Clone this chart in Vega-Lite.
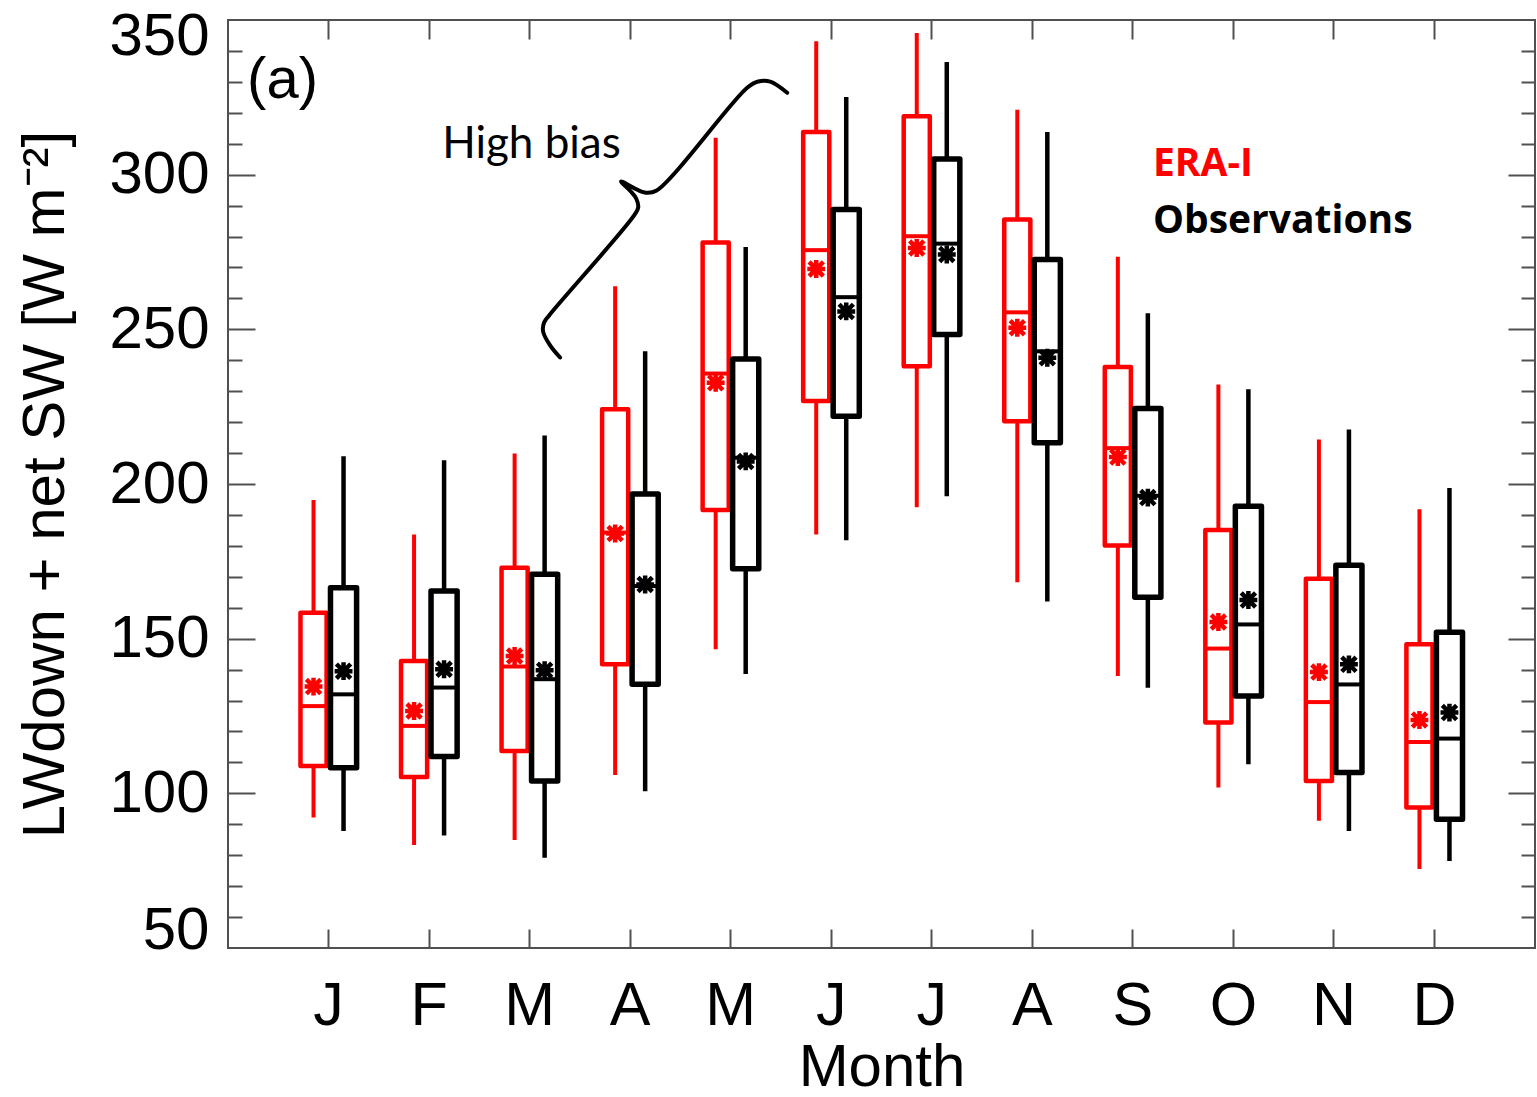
{
  "$schema": "https://vega.github.io/schema/vega-lite/v6.json",
  "width": 1307,
  "height": 928,
  "autosize": {"type": "none"},
  "padding": {"left": 228, "top": 20, "right": 2, "bottom": 149},
  "background": "white",
  "config": {
    "view": {"stroke": "#505050", "strokeWidth": 2},
    "axis": {"grid": false, "domain": false, "tickColor": "#505050", "tickWidth": 2, "labelColor": "black", "titleColor": "black", "labelFont": "Liberation Sans", "titleFont": "Liberation Sans", "titleFontWeight": "normal"}
  },
  "datasets": {
    "boxes": [
      {"mon": "Jan", "src": "ERA-I", "lo": 92.2, "q1": 108.8, "med": 128.2, "q3": 158.4, "hi": 194.8, "mean": 134.5},
      {"mon": "Jan", "src": "Observations", "lo": 87.8, "q1": 108.3, "med": 132.0, "q3": 166.5, "hi": 209.0, "mean": 139.5},
      {"mon": "Feb", "src": "ERA-I", "lo": 83.3, "q1": 105.3, "med": 121.8, "q3": 142.8, "hi": 183.7, "mean": 126.6},
      {"mon": "Feb", "src": "Observations", "lo": 86.4, "q1": 111.9, "med": 134.2, "q3": 165.4, "hi": 207.7, "mean": 140.1},
      {"mon": "Mar", "src": "ERA-I", "lo": 84.9, "q1": 113.7, "med": 141.0, "q3": 172.9, "hi": 209.9, "mean": 144.4},
      {"mon": "Mar", "src": "Observations", "lo": 79.2, "q1": 104.0, "med": 136.9, "q3": 170.8, "hi": 215.7, "mean": 139.8},
      {"mon": "Apr", "src": "ERA-I", "lo": 105.9, "q1": 141.7, "med": 184.3, "q3": 224.2, "hi": 263.9, "mean": 184.0},
      {"mon": "Apr", "src": "Observations", "lo": 100.7, "q1": 135.3, "med": 167.0, "q3": 196.8, "hi": 242.9, "mean": 167.5},
      {"mon": "May", "src": "ERA-I", "lo": 146.6, "q1": 191.6, "med": 235.7, "q3": 278.1, "hi": 311.9, "mean": 232.7},
      {"mon": "May", "src": "Observations", "lo": 138.6, "q1": 172.6, "med": 208.5, "q3": 240.4, "hi": 276.6, "mean": 207.3},
      {"mon": "Jun", "src": "ERA-I", "lo": 183.7, "q1": 226.8, "med": 275.6, "q3": 313.8, "hi": 343.1, "mean": 269.5},
      {"mon": "Jun", "src": "Observations", "lo": 181.8, "q1": 221.9, "med": 260.4, "q3": 288.7, "hi": 325.1, "mean": 255.8},
      {"mon": "Jul", "src": "ERA-I", "lo": 192.5, "q1": 238.1, "med": 280.1, "q3": 318.9, "hi": 345.8, "mean": 276.3},
      {"mon": "Jul", "src": "Observations", "lo": 196.0, "q1": 248.3, "med": 277.7, "q3": 305.1, "hi": 336.4, "mean": 274.2},
      {"mon": "Aug", "src": "ERA-I", "lo": 168.2, "q1": 220.3, "med": 255.5, "q3": 285.5, "hi": 321.0, "mean": 250.5},
      {"mon": "Aug", "src": "Observations", "lo": 162.0, "q1": 213.3, "med": 242.9, "q3": 272.6, "hi": 313.8, "mean": 240.8},
      {"mon": "Sep", "src": "ERA-I", "lo": 137.9, "q1": 180.1, "med": 211.6, "q3": 237.8, "hi": 273.5, "mean": 208.7},
      {"mon": "Sep", "src": "Observations", "lo": 134.1, "q1": 163.4, "med": 196.2, "q3": 224.4, "hi": 255.2, "mean": 195.6},
      {"mon": "Oct", "src": "ERA-I", "lo": 101.9, "q1": 122.9, "med": 146.8, "q3": 185.1, "hi": 232.2, "mean": 155.4},
      {"mon": "Oct", "src": "Observations", "lo": 109.4, "q1": 131.5, "med": 154.6, "q3": 192.8, "hi": 230.6, "mean": 162.5},
      {"mon": "Nov", "src": "ERA-I", "lo": 91.1, "q1": 104.0, "med": 129.5, "q3": 169.4, "hi": 214.4, "mean": 139.2},
      {"mon": "Nov", "src": "Observations", "lo": 87.8, "q1": 106.7, "med": 135.2, "q3": 173.7, "hi": 217.6, "mean": 141.7},
      {"mon": "Dec", "src": "ERA-I", "lo": 75.5, "q1": 95.4, "med": 116.6, "q3": 148.2, "hi": 191.8, "mean": 123.7},
      {"mon": "Dec", "src": "Observations", "lo": 78.1, "q1": 91.6, "med": 117.7, "q3": 152.1, "hi": 198.7, "mean": 126.1}
    ],
    "brace": [
      {"i": 1, "x": 3.303, "y": 240.9},
      {"i": 2, "x": 3.204, "y": 244.8},
      {"i": 3, "x": 3.134, "y": 249.3},
      {"i": 4, "x": 3.144, "y": 252.2},
      {"i": 5, "x": 3.194, "y": 254.5},
      {"i": 6, "x": 4.030, "y": 286.4},
      {"i": 7, "x": 4.080, "y": 289.4},
      {"i": 8, "x": 4.060, "y": 292.3},
      {"i": 9, "x": 4.000, "y": 294.8},
      {"i": 10, "x": 3.910, "y": 297.8},
      {"i": 11, "x": 4.030, "y": 295.8},
      {"i": 12, "x": 4.149, "y": 294.2},
      {"i": 13, "x": 4.259, "y": 294.8},
      {"i": 14, "x": 5.164, "y": 328.1},
      {"i": 15, "x": 5.274, "y": 330.1},
      {"i": 16, "x": 5.393, "y": 330.1},
      {"i": 17, "x": 5.562, "y": 326.5}
    ]
  },
  "layer": [
    {
      "data": {"name": "boxes"},
      "layer": [
        {
          "mark": {"type": "rule"},
          "encoding": {
            "x": {"field": "mon", "type": "nominal", "scale": {"type": "band", "domain": ["Jan","Feb","Mar","Apr","May","Jun","Jul","Aug","Sep","Oct","Nov","Dec"], "paddingInner": 0, "paddingOuter": 0.5},
              "axis": {"orient": "bottom", "ticks": false, "labels": true, "labelFontSize": 61, "labelPadding": 28, "labelAngle": 0, "labelExpr": "substring(datum.value, 0, 1)", "title": "Month", "titleFontSize": 60, "titleBaseline": "alphabetic", "titleY": 137}},
            "xOffset": {"field": "src", "type": "nominal", "scale": {"type": "band", "domain": ["ERA-I", "Observations"], "paddingInner": 0.13, "paddingOuter": 0.74}},
            "y": {"field": "lo", "type": "quantitative", "scale": {"domain": [50, 350], "nice": false, "zero": false},
              "axis": {"orient": "left", "values": [50, 100, 150, 200, 250, 300, 350], "ticks": false, "labelFontSize": 60, "labelPadding": 19, "labelFlush": true, "labelFlushOffset": 13, "title": "LWdown + net SW [W m⁻²]", "titleFontSize": 60, "titleX": -165, "titleBaseline": "alphabetic"}},
            "y2": {"field": "hi"},
            "stroke": {"condition": {"test": "datum.src === 'ERA-I'", "value": "#ff0000"}, "value": "#000000"},
            "strokeWidth": {"condition": {"test": "datum.src === 'ERA-I'", "value": 4}, "value": 4.5}
          }
        },
        {
          "mark": {"type": "bar", "fill": "white", "strokeJoin": "round"},
          "encoding": {
            "x": {"field": "mon", "type": "nominal", "scale": {"type": "band", "domain": ["Jan","Feb","Mar","Apr","May","Jun","Jul","Aug","Sep","Oct","Nov","Dec"], "paddingInner": 0, "paddingOuter": 0.5},
              "axis": {"orient": "bottom", "labels": false, "tickSize": -19, "title": null}},
            "xOffset": {"field": "src", "type": "nominal", "scale": {"type": "band", "domain": ["ERA-I", "Observations"], "paddingInner": 0.13, "paddingOuter": 0.74}},
            "y": {"field": "q1", "type": "quantitative", "scale": {"domain": [50, 350], "nice": false, "zero": false},
              "axis": {"orient": "left", "values": [100, 150, 200, 250, 300], "labels": false, "tickSize": -27, "title": null}},
            "y2": {"field": "q3"},
            "stroke": {"condition": {"test": "datum.src === 'ERA-I'", "value": "#ff0000"}, "value": "#000000"},
            "strokeWidth": {"condition": {"test": "datum.src === 'ERA-I'", "value": 4.5}, "value": 5.5}
          }
        },
        {
          "mark": {"type": "tick", "orient": "horizontal", "size": 27, "thickness": 4, "opacity": 1},
          "encoding": {
            "x": {"field": "mon", "type": "nominal", "scale": {"type": "band", "domain": ["Jan","Feb","Mar","Apr","May","Jun","Jul","Aug","Sep","Oct","Nov","Dec"], "paddingInner": 0, "paddingOuter": 0.5},
              "axis": {"orient": "top", "labels": false, "tickSize": -19, "title": null}},
            "xOffset": {"field": "src", "type": "nominal", "scale": {"type": "band", "domain": ["ERA-I", "Observations"], "paddingInner": 0.13, "paddingOuter": 0.74}},
            "y": {"field": "med", "type": "quantitative", "scale": {"domain": [50, 350], "nice": false, "zero": false},
              "axis": {"orient": "left", "values": [60, 70, 80, 90, 110, 120, 130, 140, 160, 170, 180, 190, 210, 220, 230, 240, 260, 270, 280, 290, 310, 320, 330, 340], "labels": false, "tickSize": -14, "title": null}},
            "color": {"condition": {"test": "datum.src === 'ERA-I'", "value": "#ff0000"}, "value": "#000000"}
          }
        },
        {
          "mark": {"type": "point", "filled": false, "shape": "M-1,0L1,0M0,-1L0,1M-0.8,-0.8L0.8,0.8M-0.8,0.8L0.8,-0.8", "size": 320, "strokeWidth": 4.5, "opacity": 1},
          "encoding": {
            "x": {"field": "mon", "type": "nominal", "scale": {"type": "band", "domain": ["Jan","Feb","Mar","Apr","May","Jun","Jul","Aug","Sep","Oct","Nov","Dec"], "paddingInner": 0, "paddingOuter": 0.5}, "axis": null},
            "xOffset": {"field": "src", "type": "nominal", "scale": {"type": "band", "domain": ["ERA-I", "Observations"], "paddingInner": 0.13, "paddingOuter": 0.74}},
            "y": {"field": "mean", "type": "quantitative", "scale": {"domain": [50, 350], "nice": false, "zero": false},
              "axis": {"orient": "right", "values": [100, 150, 200, 250, 300], "labels": false, "tickSize": -27, "title": null}},
            "stroke": {"condition": {"test": "datum.src === 'ERA-I'", "value": "#ff0000"}, "value": "#000000"}
          }
        }
      ],
      "resolve": {"axis": {"x": "independent", "y": "independent"}}
    },
    {
      "layer": [
        {
          "data": {"name": "brace"},
          "mark": {"type": "line", "color": "black", "strokeWidth": 4, "strokeCap": "round", "strokeJoin": "round", "interpolate": "catmull-rom"},
          "encoding": {
            "x": {"field": "x", "type": "quantitative", "scale": {"domain": [0, 13], "nice": false, "zero": false}, "axis": null},
            "y": {"field": "y", "type": "quantitative", "scale": {"domain": [50, 350], "nice": false, "zero": false},
              "axis": {"orient": "right", "values": [60, 70, 80, 90, 110, 120, 130, 140, 160, 170, 180, 190, 210, 220, 230, 240, 260, 270, 280, 290, 310, 320, 330, 340], "labels": false, "tickSize": -14, "title": null}},
            "order": {"field": "i", "type": "quantitative"}
          }
        },
        {
          "data": {"values": [{}]},
          "mark": {"type": "text", "text": "(a)", "font": "Liberation Sans", "fontSize": 58, "align": "left", "baseline": "alphabetic", "color": "black"},
          "encoding": {
            "x": {"datum": 0.19, "type": "quantitative", "scale": {"domain": [0, 13], "nice": false, "zero": false}, "axis": null},
            "y": {"datum": 324.9, "type": "quantitative", "scale": {"domain": [50, 350], "nice": false, "zero": false}, "axis": null}
          }
        },
        {
          "data": {"values": [{}]},
          "mark": {"type": "text", "text": "High bias", "font": "Lato", "fontSize": 44, "align": "left", "baseline": "alphabetic", "color": "black"},
          "encoding": {
            "x": {"datum": 2.13, "type": "quantitative", "scale": {"domain": [0, 13], "nice": false, "zero": false}, "axis": null},
            "y": {"datum": 305.4, "type": "quantitative", "scale": {"domain": [50, 350], "nice": false, "zero": false}, "axis": null}
          }
        },
        {
          "data": {"values": [{}]},
          "mark": {"type": "text", "text": "ERA-I", "font": "Open Sans", "fontWeight": "bold", "fontSize": 39, "align": "left", "baseline": "alphabetic", "color": "#ff0000"},
          "encoding": {
            "x": {"datum": 9.2, "type": "quantitative", "scale": {"domain": [0, 13], "nice": false, "zero": false}, "axis": null},
            "y": {"datum": 299.5, "type": "quantitative", "scale": {"domain": [50, 350], "nice": false, "zero": false}, "axis": null}
          }
        },
        {
          "data": {"values": [{}]},
          "mark": {"type": "text", "text": "Observations", "font": "Open Sans", "fontWeight": "bold", "fontSize": 39, "align": "left", "baseline": "alphabetic", "color": "black"},
          "encoding": {
            "x": {"datum": 9.2, "type": "quantitative", "scale": {"domain": [0, 13], "nice": false, "zero": false}, "axis": null},
            "y": {"datum": 281.3, "type": "quantitative", "scale": {"domain": [50, 350], "nice": false, "zero": false}, "axis": null}
          }
        }
      ],
      "resolve": {"axis": {"y": "independent"}}
    }
  ],
  "resolve": {"scale": {"x": "independent"}, "axis": {"x": "independent", "y": "independent"}}
}
